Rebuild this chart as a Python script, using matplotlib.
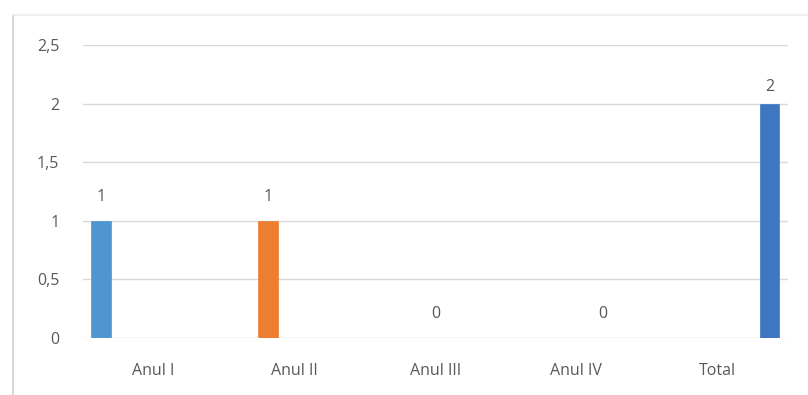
import numpy as np
import matplotlib
matplotlib.use('Agg')
import matplotlib.pyplot as plt
from matplotlib.ticker import FuncFormatter
from matplotlib.lines import Line2D

plt.rcParams['font.family'] = ['Open Sans', 'DejaVu Sans']

# 데이터
categories = ['Anul I', 'Anul II', 'Anul III', 'Anul IV', 'Total']
series_names = ['Anul I', 'Anul II', 'Anul III', 'Anul IV', 'Total']
values = [1, 1, 0, 0, 2]   # 각 시리즈는 자기 카테고리에만 값이 있음
colors = ['#4F96D0', '#ED7D31', '#A5A5A5', '#FFC000', '#3F76C2']

fig = plt.figure(figsize=(8.08, 3.95), dpi=100)
ax = fig.add_axes([0.1027, 0.1443, 0.8723, 0.7417])

x = np.arange(len(categories))
width = 0.14
step = 0.185

for i, name in enumerate(series_names):
    off = (i - 2) * step
    pos = x[i] + off
    ax.bar(pos, values[i], width=width, color=colors[i], edgecolor=colors[i],
           linewidth=0.5, zorder=3)
    dy = 12 if values[i] == max(values) else 17
    ax.annotate(str(values[i]), (pos, values[i]), xytext=(0, dy),
                textcoords='offset points', ha='center', va='center',
                fontsize=11.5, color='#595959', annotation_clip=False)

ax.set_xlim(-0.5, len(categories) - 0.5)
ax.set_ylim(0, 2.5)
ax.set_yticks([0, 0.5, 1, 1.5, 2, 2.5])
ax.yaxis.set_major_formatter(FuncFormatter(lambda v, p: ('%g' % v).replace('.', ',')))
ax.set_xticks(x)
ax.set_xticklabels(categories)
ax.tick_params(axis='both', length=0, labelsize=11.5, labelcolor='#595959')
ax.tick_params(axis='x', pad=18)
ax.tick_params(axis='y', pad=17)
ax.grid(axis='y', color='#D9D9D9', linewidth=1, zorder=0)
for s in ax.spines.values():
    s.set_visible(False)

# 바깥 테두리 (스캔된 틀)
fig.add_artist(Line2D([13/808, 13/808], [0, 1 - 15/395], color='#D0D0D0', lw=1.2))
fig.add_artist(Line2D([13/808, 1], [1 - 15/395, 1 - 15/395], color='#ECECEC', lw=1.2))

fig.savefig('out.png', dpi=100)
